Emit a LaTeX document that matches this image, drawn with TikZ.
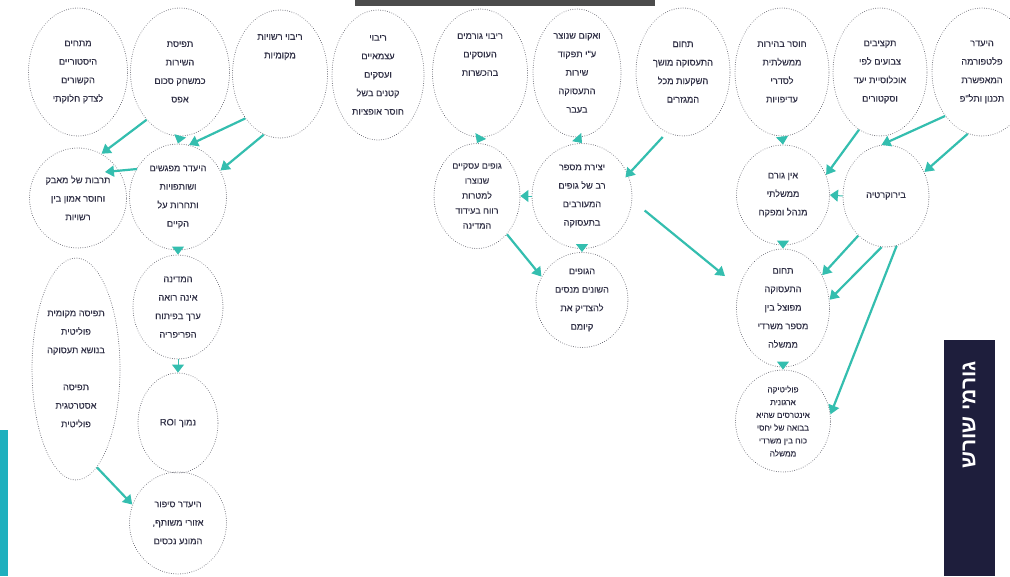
\documentclass[tikz,border=0pt]{standalone}
\usepackage{fontspec}
\setmainfont{Liberation Sans}
\newfontfamily\hebfont[Script=Hebrew,FakeBold=0.5]{Liberation Sans}
\newfontfamily\hebbold[Script=Hebrew]{Liberation Sans}
\TeXXeTstate=1
\usetikzlibrary{shapes.geometric,arrows.meta,calc}
\definecolor{arr}{RGB}{52,190,175}
\definecolor{txt}{RGB}{48,48,70}
\definecolor{navyb}{RGB}{30,30,60}
\definecolor{dotc}{RGB}{105,105,115}
\definecolor{tealbar}{RGB}{30,176,190}
\newcommand{\hb}[1]{\beginR #1\endR}
\begin{document}
\begin{tikzpicture}[x=1pt,y=-1pt,
  el/.style={ellipse, draw=dotc, line width=0.9pt, dash pattern=on 0.1pt off 2.2pt, line cap=round,
    inner sep=0pt, align=center, text=txt, font=\hebfont\fontsize{9.2}{18.5}\selectfont},
  tight/.style={font=\hebfont\fontsize{9}{15}\selectfont},
  tighter/.style={font=\hebfont\fontsize{8.2}{12.8}\selectfont},
  ar/.style={draw=arr, line width=2.2pt, -{Triangle[length=9pt,width=11pt]}},
  tri/.style={draw=arr, line width=1pt, -{Triangle[length=8pt,width=12pt]}}
]
\useasboundingbox (0,0) rectangle (1010,576);
\fill[white] (0,0) rectangle (1010,576);

% bars
\fill[black!70] (355,0) rectangle (655,6);
\fill[tealbar] (0,430) rectangle (8,576);
\fill[navyb] (944,340) rectangle (995,576);
\node[rotate=90, text=white, font=\hebbold\bfseries\fontsize{21}{22}\selectfont] (root) at (969,415) {\hb{גורמי שורש}};

% top row
\node[el, minimum width=99, minimum height=128] (T1) at (78,72) {\hb{מתחים}\\\hb{היסטוריים}\\\hb{הקשורים}\\\hb{לצדק חלוקתי}};
\node[el, minimum width=99, minimum height=128] (T2) at (180,72) {\hb{תפיסת}\\\hb{השירות}\\\hb{כמשחק סכום}\\\hb{אפס}};
\node[el, minimum width=95, minimum height=128] (T3) at (280,74) {\hb{ריבוי רשויות}\\\hb{מקומיות}\\~\\~\\~};
\node[el, minimum width=92, minimum height=130] (T4) at (378,75) {\hb{ריבוי}\\\hb{עצמאיים}\\\hb{ועסקים}\\\hb{קטנים בשל}\\\hb{חוסר אופציות}};
\node[el, minimum width=95, minimum height=128] (T5) at (480,73) {\hb{ריבוי גורמים}\\\hb{העוסקים}\\\hb{בהכשרות}\\~\\~};
\node[el, minimum width=88, minimum height=128] (T6) at (577,73) {\hb{ואקום שנוצר}\\\hb{ע"י תפקוד}\\\hb{שירות}\\\hb{התעסוקה}\\\hb{בעבר}};
\node[el, minimum width=94, minimum height=128] (T7) at (683,72) {\hb{תחום}\\\hb{התעסוקה מושך}\\\hb{השקעות מכל}\\\hb{המגזרים}};
\node[el, minimum width=94, minimum height=128] (T8) at (782,72) {\hb{חוסר בהירות}\\\hb{ממשלתית}\\\hb{לסדרי}\\\hb{עדיפויות}};
\node[el, minimum width=94, minimum height=128] (T9) at (880,72) {\hb{תקציבים}\\\hb{צבועים לפי}\\\hb{אוכלוסיית יעד}\\\hb{וסקטורים}};
\node[el, minimum width=100, minimum height=128] (T10) at (982,72) {\hb{היעדר}\\\hb{פלטפורמה}\\\hb{המאפשרת}\\\hb{תכנון ותל"פ}};

% left column
\node[el, minimum width=97, minimum height=100] (A) at (78,198) {\hb{תרבות של מאבק}\\\hb{וחוסר אמון בין}\\\hb{רשויות}};
\node[el, minimum width=97, minimum height=106] (B) at (178,197) {\hb{היעדר מפגשים}\\\hb{ושותפויות}\\\hb{ותחרות על}\\\hb{הקיים}};
\node[el, minimum width=88, minimum height=222] (L) at (76,369) {\hb{תפיסה מקומית}\\\hb{פוליטית}\\\hb{בנושא תעסוקה}\\~\\\hb{תפיסה}\\\hb{אסטרטגית}\\\hb{פוליטית}};
\node[el, minimum width=90, minimum height=104] (M1) at (178,307) {\hb{המדינה}\\\hb{אינה רואה}\\\hb{ערך בפיתוח}\\\hb{הפריפריה}};
\node[el, minimum width=80, minimum height=100] (M2) at (178,423) {\hb{נמוך \beginL ROI\endL}};
\node[el, minimum width=97, minimum height=102] (M3) at (178,523) {\hb{היעדר סיפור}\\\hb{אזורי משותף,}\\\hb{המונע נכסים}};

% middle
\node[el, tight, minimum width=86, minimum height=105] (G1) at (477,196) {\hb{גופים עסקיים}\\\hb{שנוצרו}\\\hb{למטרות}\\\hb{רווח בעידוד}\\\hb{המדינה}};
\node[el, minimum width=100, minimum height=105] (G2) at (582,196) {\hb{יצירת מספר}\\\hb{רב של גופים}\\\hb{המעורבים}\\\hb{בתעסוקה}};
\node[el, minimum width=92, minimum height=95] (G3) at (582,300) {\hb{הגופים}\\\hb{השונים מנסים}\\\hb{להצדיק את}\\\hb{קיומם}};

% right
\node[el, minimum width=93, minimum height=100] (R1) at (783,195) {\hb{אין גורם}\\\hb{ממשלתי}\\\hb{מנהל ומפקח}};
\node[el, minimum width=86, minimum height=102] (R2) at (886,196) {\hb{בירוקרטיה}};
\node[el, minimum width=93, minimum height=118] (R3) at (783,308) {\hb{תחום}\\\hb{התעסוקה}\\\hb{מפוצל בין}\\\hb{מספר משרדי}\\\hb{ממשלה}};
\node[el, tighter, minimum width=95, minimum height=102] (R4) at (783,421) {\hb{פוליטיקה}\\\hb{ארגונית}\\\hb{אינטרסים שהיא}\\\hb{בבואה של יחסי}\\\hb{כוח בין משרדי}\\\hb{ממשלה}};

% connectors
\draw[ar] (T2.235) -- (A.62);
\draw[tri] (T2.south) -- (B.north);
\draw[ar] (T3.232) -- (B.78);
\draw[ar] (T3.255) -- (B.32);
\draw[ar] ($(B.west)+(8,-28)$) -- ($(A.east)+(-22,-26)$);
\draw[tri] (B.south) -- (M1.north);
\draw[tri] (M1.south) -- (M2.north);
\draw[ar] (L.282) -- (M3.158);

\draw[tri] (T5.south) -- (G1.north);
\draw[tri] (T6.south) -- (G2.north);
\draw[tri] (G2.west) -- (G1.east);
\draw[tri] (G2.south) -- (G3.north);
\draw[ar] (G1.-52) -- (G3.150);
\draw[ar, shorten <=6pt, shorten >=-4pt] (T7.255) -- (G2.25);
\draw[ar, shorten <=16pt, shorten >=18pt] (G2.-5) -- (R3.155);

\draw[tri] (T8.south) -- (R1.north);
\draw[ar] (T10.230) -- (R2.95);
\draw[ar] (T10.257) -- (R2.32);
\draw[ar] (T9.250) -- (R1.25);
\draw[tri] (R2.west) -- (R1.east);
\draw[ar] (R2.235) -- (R3.40);
\draw[ar] (R2.265) -- (R3.10);
\draw[ar] (R2.-78) -- (R4.8);
\draw[tri] (R1.south) -- (R3.north);
\draw[tri] (R3.south) -- (R4.north);
\end{tikzpicture}
\end{document}
